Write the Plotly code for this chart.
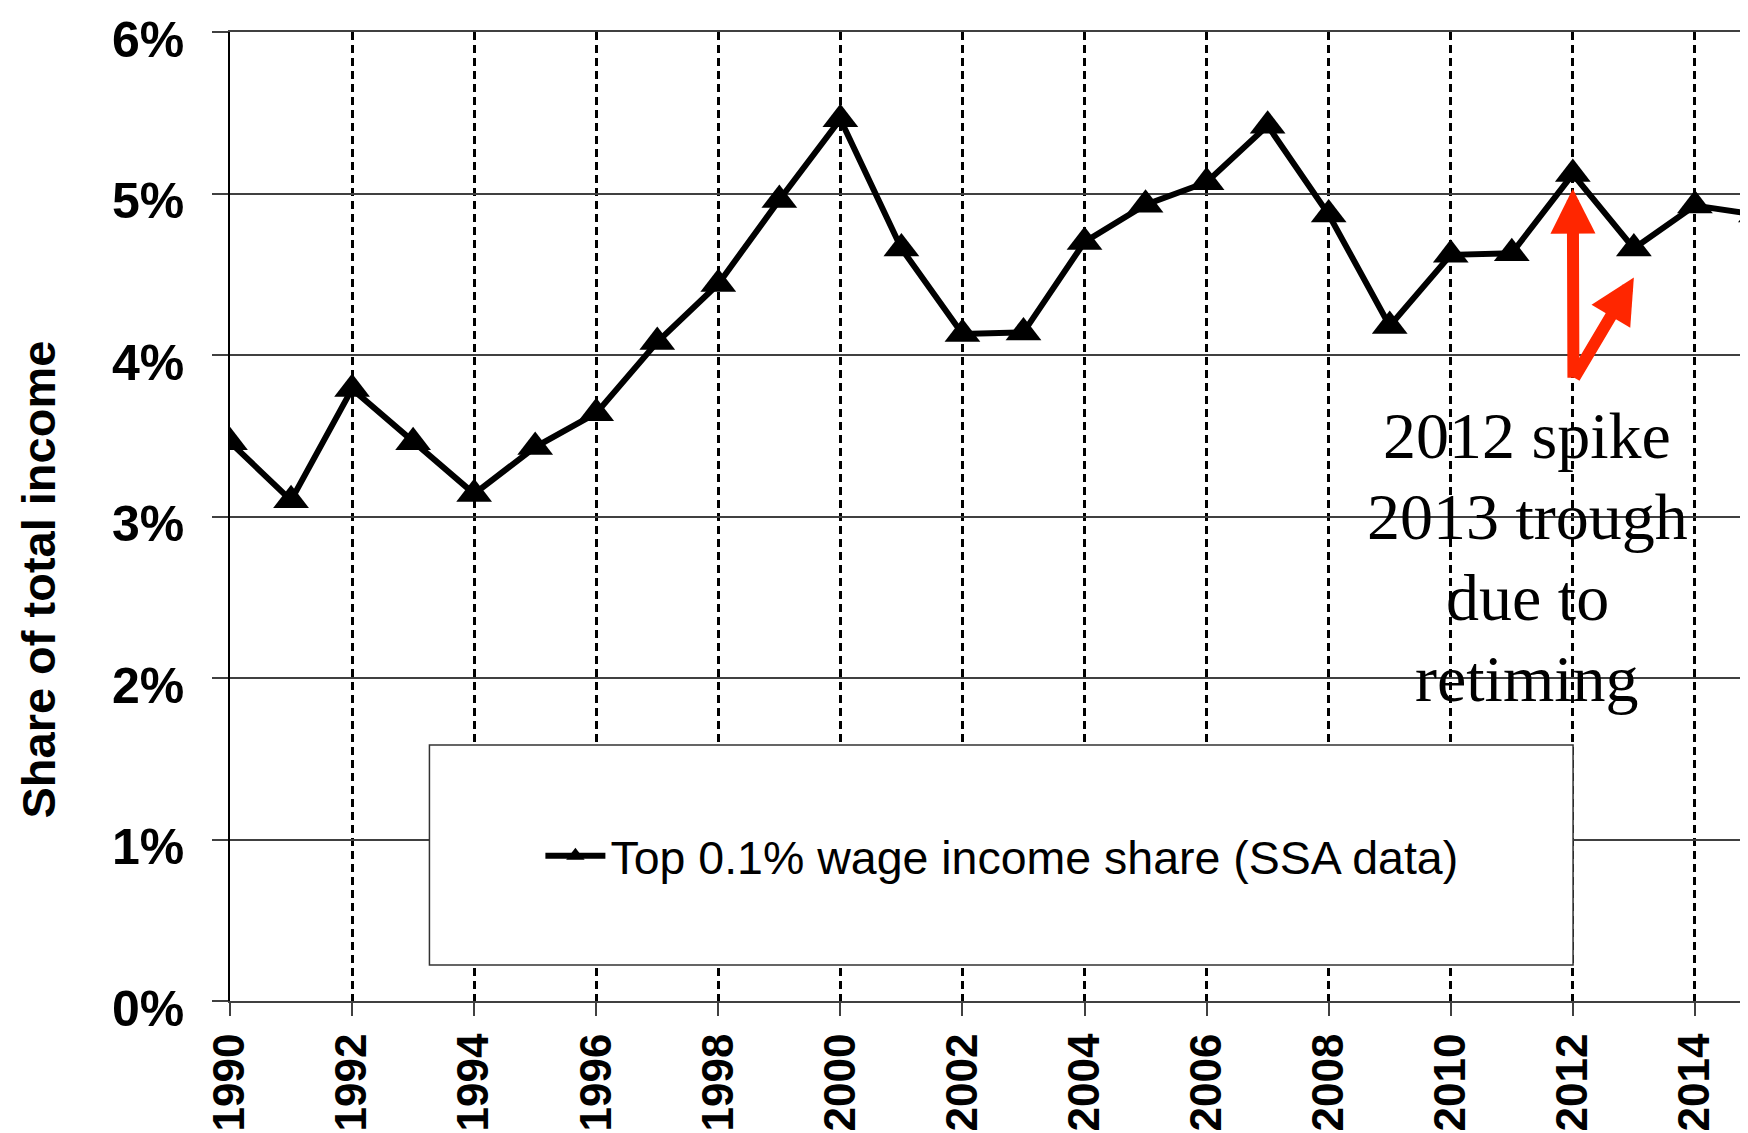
import plotly.graph_objects as go

# ---- data ----
years = list(range(1990, 2016))
share = [3.46, 3.10, 3.79, 3.46, 3.14, 3.43, 3.64, 4.08, 4.44, 4.96,
         5.46, 4.66, 4.13, 4.14, 4.70, 4.93, 5.07, 5.42, 4.87, 4.18,
         4.62, 4.63, 5.12, 4.66, 4.925, 4.87]
series_name = "Top 0.1% wage income share (SSA data)"

x_tick_vals = list(range(1990, 2015, 2))
x_tick_text = [str(v) for v in x_tick_vals]
y_tick_vals = [0, 1, 2, 3, 4, 5, 6]
y_tick_text = [f"{v}%" for v in y_tick_vals]
y_title = "Share of total income"
note_lines = ["2012 spike", "2013 trough", "due to", "retiming"]

# ---- layout geometry (page pixels; page body has an 8px margin) ----
OFF = 8
PAGE_W, PAGE_H = 1748, 1133
W, H = PAGE_W - OFF, PAGE_H - OFF
PL, PR, PT, PB = 229.5, 1748, 32, 1001   # plot area edges in page px
PW, PH = PR - PL, PB - PT


def px_x(p):
    return (p - PL) / PW


def px_y(p):
    return (PB - p) / PH


SANS = "Arial, Liberation Sans, Helvetica, sans-serif"
SERIF = "Times New Roman, Liberation Serif, serif"
RED = "#FF2600"

fig = go.Figure()
fig.add_trace(go.Scatter(
    x=years, y=share, mode="lines+markers", name=series_name,
    line=dict(color="black", width=6),
    marker=dict(symbol="triangle-up", size=31, color="black"),
    showlegend=True,
))

annotations = []
# y axis title
annotations.append(dict(
    text=y_title, xref="paper", yref="paper", x=px_x(37), y=px_y(580),
    xanchor="center", yanchor="middle", textangle=-90, showarrow=False,
    font=dict(family=SANS, size=47, color="black", weight="bold"),
))
# note text
for i, line in enumerate(note_lines):
    annotations.append(dict(
        text=line, xref="x", yref="y", x=2011.25, y=3.5 - 0.5 * i,
        xanchor="center", yanchor="middle", showarrow=False,
        font=dict(family=SERIF, size=66, color="black"),
    ))
# red arrows
for tip_x, tip_y in [(2012.0, 5.03), (2013.0, 4.48)]:
    annotations.append(dict(
        text="", xref="x", yref="y", x=tip_x, y=tip_y,
        axref="x", ayref="y", ax=2012.01, ay=3.85,
        showarrow=True, arrowhead=2, arrowwidth=12, arrowsize=0.75,
        arrowcolor=RED, standoff=0, startstandoff=0,
    ))

fig.update_layout(
    width=W, height=H,
    template="none",
    margin=dict(l=PL - OFF, r=0, t=PT - OFF, b=H - (PB - OFF), pad=0),
    paper_bgcolor="white", plot_bgcolor="white",
    showlegend=True,
    legend=dict(
        x=px_x(540), xanchor="left", y=px_y(856), yanchor="middle",
        font=dict(family=SANS, size=46.5, color="black"),
        bgcolor="rgba(0,0,0,0)", borderwidth=0, itemwidth=60,
    ),
    shapes=[dict(
        type="rect", xref="paper", yref="paper",
        x0=px_x(429), x1=px_x(1573), y0=px_y(965), y1=px_y(745),
        fillcolor="white", line=dict(color="#333333", width=1.5), layer="above",
    )],
    annotations=annotations,
    xaxis=dict(
        range=[1990, 2014.87], tickmode="array",
        tickvals=x_tick_vals, ticktext=x_tick_text, tickangle=-90,
        tickfont=dict(family=SANS, size=44, color="black", weight="bold"),
        showgrid=True, gridcolor="black", gridwidth=2.5, griddash="8px,5px",
        showline=True, mirror=True, linecolor="#404040", linewidth=2,
        ticks="outside", ticklen=13, tickwidth=1.5, tickcolor="#404040",
        zeroline=False, automargin=False, ticklabelstandoff=0,
        ticklabeloverflow="allow",
    ),
    yaxis=dict(
        range=[0, 6], tickmode="array",
        tickvals=y_tick_vals, ticktext=y_tick_text,
        tickfont=dict(family=SANS, size=50, color="black", weight="bold"),
        showgrid=True, gridcolor="#404040", gridwidth=1.5,
        showline=True, linecolor="black", linewidth=1.5,
        ticks="outside", ticklen=16, tickwidth=1.5, tickcolor="#404040",
        zeroline=False, automargin=False, ticklabelstandoff=18,
        ticklabelshift=7, ticklabeloverflow="allow",
    ),
)

fig.write_html("out.html")
